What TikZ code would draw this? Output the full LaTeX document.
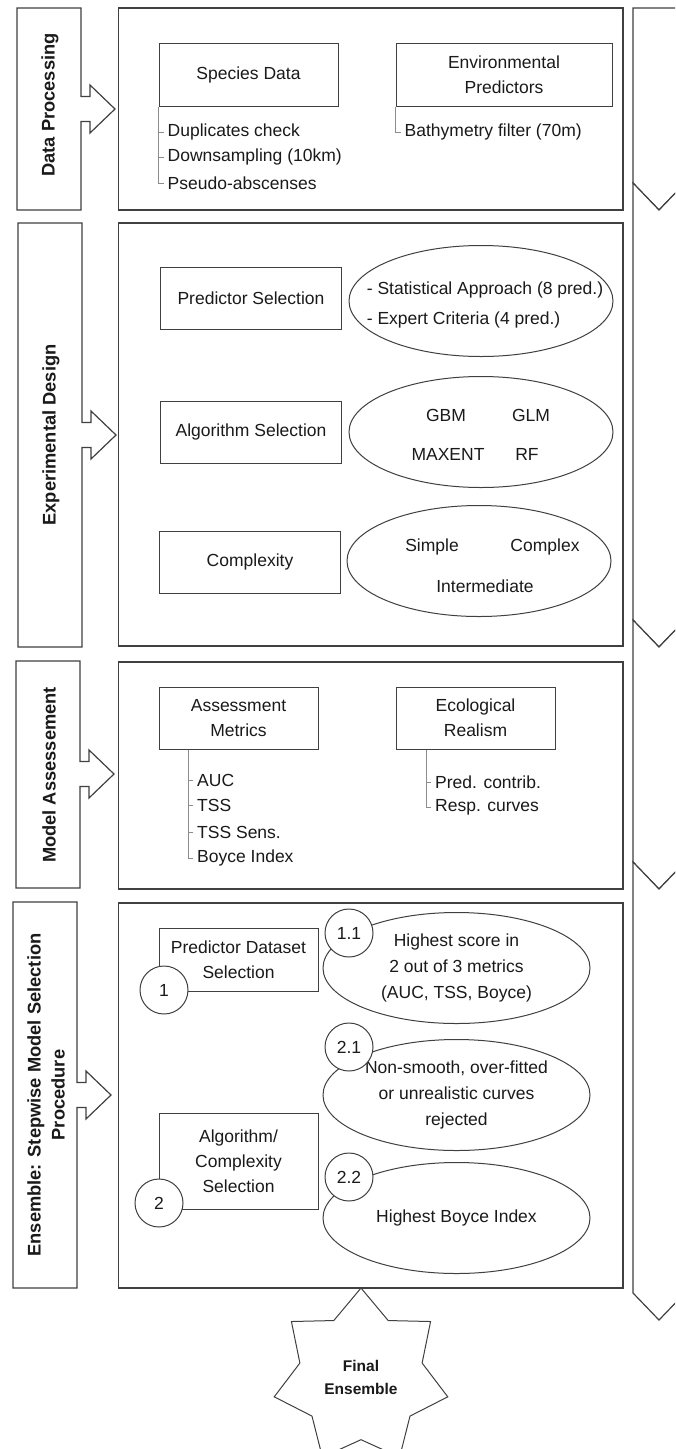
\documentclass[tikz,border=0pt]{standalone}
\usepackage{fontspec}
\setmainfont{Liberation Sans}
\usetikzlibrary{shapes.geometric,positioning}

\definecolor{boxline}{HTML}{404040}
\definecolor{brline}{HTML}{8C8C8C}
\definecolor{txtcol}{HTML}{1A1A1A}

\begin{document}
\begin{tikzpicture}[x=1pt, y=-1pt,
	secframe/.style={draw=boxline, line width=1.2pt, fill=white},
	stepbox/.style={draw=boxline, line width=1pt, fill=white, minimum height=62pt, align=center, inner sep=0pt, text=txtcol, font=\fontsize{17.5}{25}\selectfont},
	optell/.style={ellipse, draw=boxline, line width=1pt, fill=white, minimum width=267pt, minimum height=111pt, inner sep=0pt, align=center, text=txtcol, font=\fontsize{17.5}{26}\selectfont},
	numcirc/.style={circle, draw=boxline, line width=1pt, fill=white, minimum size=48pt, inner sep=0pt, text=txtcol, font=\fontsize{17.5}{25}\selectfont},
	listitem/.style={anchor=west, inner xsep=4pt, inner ysep=1pt, text=txtcol, font=\fontsize{17.5}{25}\selectfont},
	txt/.style={inner sep=0pt, text=txtcol, font=\fontsize{17.5}{25}\selectfont},
	bracket/.style={draw=brline, line width=0.9pt},
	seclabel/.style={rotate=90, align=center, text=txtcol, font=\bfseries\fontsize{18.3}{24}\selectfont}]
	
	\useasboundingbox (0,0) rectangle (675,1449);
	\clip (0,0) rectangle (675,1449);
	
	% chevron column on the right
	\draw[secframe] (633,8) -- (685,8) -- (685,183) -- (659,210) -- (633,183) -- cycle;
	\foreach \T/\P in {210/647, 647/889, 889/1320} {
		\draw[secframe] (633,\T-27) -- (659,\T) -- (685,\T-27) -- (685,\P-27) -- (659,\P) -- (633,\P-27) -- cycle;
	}
	
	% section labels with block arrows
	\foreach \L/\T/\B/\A in {17/8/210/109, 18/223/647/435, 16/661/888/774, 13/902/1288/1095} {
		\draw[secframe] (\L,\T) -- (\L+64,\T) -- (\L+64,\A-12.5) -- (\L+73,\A-12.5) -- (\L+73,\A-24)
			-- (\L+98,\A) -- (\L+73,\A+24) -- (\L+73,\A+12.5) -- (\L+64,\A+12.5) -- (\L+64,\B) -- (\L,\B) -- cycle;
	}
	\node[seclabel] (lab1) at (50,105) {Data Processing};
	\node[seclabel] (lab2) at (51,435) {Experimental Design};
	\node[seclabel] (lab3) at (49,775) {Model Assessement};
	\node[seclabel] (lab4) at (46,1095) {Ensemble: Stepwise Model Selection\\Procedure};
	
	% main section frames
	\foreach \T/\B in {8/210, 223/646, 662/889, 903/1288} {
		\draw[secframe] (118.5,\T) rectangle (623,\B);
	}
	
	% Data Processing
	\node[stepbox, minimum width=179pt, minimum height=63pt] (spec) at (248.5,74.5) {Species Data};
	\node[stepbox, minimum width=216pt, minimum height=63pt] (envp) at (504,74.5) {Environmental\\Predictors};
	\node[listitem] (d1) at (163.5,132) {Duplicates check};
	\node[listitem] (d2) at (163.5,157) {Downsampling (10km)};
	\node[listitem] (d3) at (163.5,183) {Pseudo-abscenses};
	\draw[bracket] (spec.south west) |- (d3.west);
	\foreach \n in {d1,d2} \draw[bracket] (spec.south west |- \n.west) -- (\n.west);
	\node[listitem] (b1) at (400.5,132) {Bathymetry filter (70m)};
	\draw[bracket] (envp.south west) |- (b1.west);
	
	% Experimental Design
	\node[stepbox, minimum width=181pt] (predsel) at (251,298) {Predictor Selection};
	\node[stepbox, minimum width=181pt] (algsel) at (251,432) {Algorithm Selection};
	\node[stepbox, minimum width=181pt] (cplx) at (250,562) {Complexity};
	\node[optell, minimum width=264pt] (predell) at (481,301) {};
	\node[optell, minimum width=264pt] (algell) at (481,432) {};
	\node[optell, minimum width=264pt] (cplxell) at (479,561) {};
	\node[txt, align=left, font=\fontsize{17.5}{30}\selectfont] (stattxt) at (485,305) {- Statistical Approach (8 pred.)\\- Expert Criteria (4 pred.)};
	\node[txt] (gbm) at (446,415) {GBM};
	\node[txt] (glm) at (531,415) {GLM};
	\node[txt] (maxent) at (448,454) {MAXENT};
	\node[txt] (rf) at (527,454) {RF};
	\node[txt] (simple) at (432,547) {Simple};
	\node[txt] (complex) at (545,547) {Complex};
	\node[txt] (interm) at (485,586) {Intermediate};
	
	% Model Assessement
	\node[stepbox, minimum width=159pt] (amet) at (238.5,718) {Assessment\\Metrics};
	\node[stepbox, minimum width=159pt] (ecor) at (475.5,718) {Ecological\\Realism};
	\coordinate (mtop) at ([xshift=30pt]amet.south west);
	\coordinate (rtop) at ([xshift=31pt]ecor.south west);
	\node[listitem] (m1) at (193,780) {AUC};
	\node[listitem] (m2) at (193,805) {TSS};
	\node[listitem] (m3) at (193,832) {TSS Sens.};
	\node[listitem] (m4) at (193,858) {Boyce Index};
	\draw[bracket] (mtop) |- (m4.west);
	\foreach \n in {m1,m2,m3} \draw[bracket] (mtop |- \n.west) -- (\n.west);
	\node[listitem] (r1) at (431,782) {Pred. contrib.};
	\node[listitem] (r2) at (431,807) {Resp. curves};
	\draw[bracket] (rtop) |- (r2.west);
	\draw[bracket] (rtop |- r1.west) -- (r1.west);
	
	% Ensemble: stepwise selection
	\node[stepbox, minimum width=159pt, minimum height=63pt] (pds) at (238.5,959.5) {Predictor Dataset\\Selection};
	\node[stepbox, minimum width=159pt, minimum height=96pt] (acs) at (238.5,1161) {Algorithm/\\Complexity\\Selection};
	\node[optell] (scoreell) at (456.5,968) {Highest score in\\2 out of 3 metrics\\(AUC, TSS, Boyce)};
	\node[optell] (curveell) at (456.5,1095) {Non-smooth, over-fitted\\or unrealistic curves\\rejected};
	\node[optell] (boyceell) at (456.5,1218) {Highest Boyce Index};
	\node[numcirc] (c1) at (164,990) {1};
	\node[numcirc] (c2) at (159,1203) {2};
	\node[numcirc] (c11) at (349,933) {1.1};
	\node[numcirc] (c21) at (349,1047) {2.1};
	\node[numcirc] (c22) at (349,1177) {2.2};
	
	% final ensemble
	\node[star, star points=7, star point ratio=1.42, draw=boxline, line width=1pt, fill=white, minimum size=178pt, inner sep=0pt, align=center, text=txtcol, font=\bfseries\fontsize{15.5}{23}\selectfont] (fin) at (361,1377) {Final\\Ensemble};
	
\end{tikzpicture}
\end{document}
